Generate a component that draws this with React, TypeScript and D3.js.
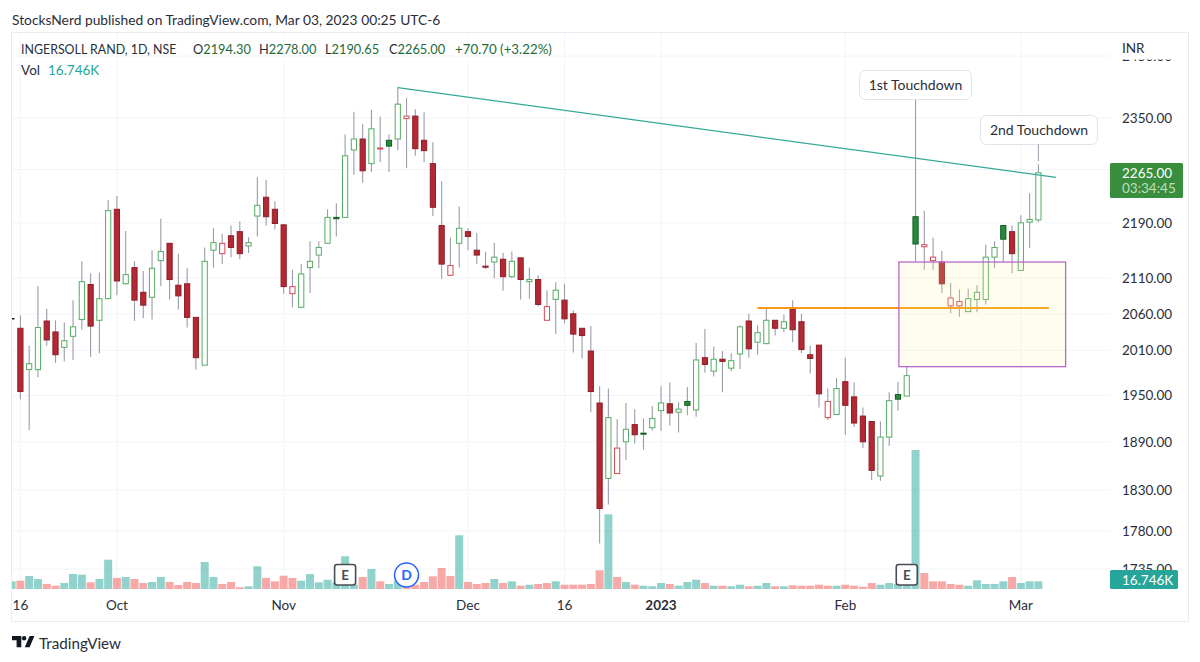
import React from "react";
import * as d3 from "d3";

// daily candles, oldest first
const opens = [
  2040, 1984, 1984, 2050, 2035, 2014, 2029, 2052, 2101, 2051,
  2081, 2210, 2102, 2125, 2090, 2083, 2135, 2160, 2100, 2102,
  2055, 1990, 2150, 2145, 2171, 2177, 2156, 2200, 2228, 2210,
  2187, 2088, 2069, 2125, 2143, 2160, 2198, 2198, 2300, 2317,
  2279, 2302, 2315, 2317, 2349, 2353, 2315, 2279, 2186, 2114,
  2160, 2177, 2150, 2127, 2133, 2137, 2112, 2139, 2105, 2108,
  2051, 2080, 2079, 2060, 2040, 2009, 1940, 1844, 1850, 1890,
  1912, 1901, 1908, 1930, 1939, 1928, 1942, 1931, 2000, 1982,
  1998, 1986, 2005, 2050, 2021, 2019, 2051, 2040, 2068, 2049,
  2004, 2017, 1921, 1925, 1968, 1948, 1923, 1916, 1847, 1896,
  1951, 1949, 2199, 2155, 2135, 2133, 2071, 2071, 2063, 2080,
  2080, 2140, 2186, 2177, 2121, 2191, 2194.3,
];
const highs = [
  2058, 2016, 2099, 2067, 2051, 2048, 2079, 2134, 2117, 2118,
  2224, 2230, 2178, 2134, 2120, 2150, 2196, 2161, 2145, 2124,
  2055, 2154, 2182, 2174, 2186, 2192, 2169, 2258, 2254, 2222,
  2188, 2122, 2130, 2163, 2163, 2210, 2219, 2324, 2360, 2340,
  2363, 2352, 2324, 2399, 2382, 2364, 2359, 2312, 2252, 2168,
  2214, 2182, 2175, 2148, 2161, 2146, 2148, 2139, 2125, 2114,
  2093, 2104, 2102, 2065, 2040, 2043, 1962, 1959, 1919, 1940,
  1932, 1920, 1936, 1962, 1967, 1941, 1961, 2020, 2039, 2015,
  2009, 2006, 2044, 2060, 2044, 2068, 2051, 2059, 2079, 2060,
  2016, 2017, 1959, 1973, 2000, 1967, 1934, 1916, 1916, 1954,
  1968, 1988, 2379, 2208, 2168, 2149, 2103, 2094, 2095, 2100,
  2158, 2163, 2186, 2186, 2201, 2234, 2278,
];
const lows = [
  1945, 1905, 1974, 2016, 1993, 1995, 1997, 2038, 2001, 2006,
  2081, 2086, 2101, 2050, 2054, 2052, 2099, 2080, 2066, 2041,
  1984, 1990, 2125, 2130, 2140, 2137, 2146, 2170, 2186, 2180,
  2088, 2069, 2069, 2089, 2124, 2160, 2170, 2198, 2262, 2250,
  2266, 2281, 2266, 2300, 2272, 2291, 2281, 2200, 2109, 2114,
  2125, 2150, 2130, 2123, 2110, 2092, 2110, 2080, 2081, 2070,
  2051, 2032, 2047, 2007, 1999, 1928, 1765, 1812, 1850, 1867,
  1888, 1880, 1904, 1904, 1911, 1902, 1924, 1922, 1980, 1975,
  1954, 1982, 1985, 2000, 2004, 2019, 2030, 2035, 2021, 2006,
  1979, 1934, 1918, 1925, 1899, 1909, 1882, 1842, 1841, 1885,
  1930, 1949, 2134, 2122, 2122, 2089, 2061, 2056, 2063, 2062,
  2073, 2124, 2133, 2117, 2121, 2153, 2190.65,
];
const closes = [
  1955, 1992, 2041, 2024, 2004, 2023, 2042, 2105, 2043, 2081,
  2208, 2106, 2115, 2079, 2072, 2124, 2148, 2108, 2085, 2055,
  2000, 2134, 2161, 2160, 2154, 2145, 2161, 2216, 2199, 2189,
  2098, 2098, 2116, 2134, 2154, 2198, 2196, 2291, 2317, 2268,
  2333, 2303, 2306, 2372, 2353, 2302, 2299, 2213, 2130, 2128,
  2182, 2170, 2143, 2126, 2140, 2112, 2134, 2108, 2108, 2073,
  2070, 2093, 2053, 2032, 2030, 1955, 1807, 1921, 1882, 1906,
  1899, 1900, 1920, 1940, 1927, 1932, 1937, 1997, 1991, 1998,
  1995, 1996, 2042, 2012, 2034, 2051, 2040, 2049, 2038, 2011,
  1999, 1952, 1942, 1959, 1937, 1914, 1890, 1854, 1896, 1943,
  1945, 1976, 2159, 2158, 2140, 2102, 2082, 2077, 2081, 2090,
  2140, 2154, 2166, 2145, 2190, 2195, 2265,
];
// g / r: close above or below the previous close
const dayColors = (
  "rggrrgggrg" + "grgrrggrrr" + "rggrrrggrr" + "rrgggggggr" + "grggrrrrrr" +
  "grrrgrgrgr" + "rgrrrrrgrg" + "rgggrgggrg" + "rggrggrgrr" + "rrrgrrrrgg" +
  "gggrrrrrgg" + "gggrggg"
).split("");
// thousands of shares
const volumes = [
  18.1, 28.3, 21.8, 10.9, 7.2, 13.1, 32.7, 31.2, 14.6, 21.8,
  63.9, 24, 26.2, 21.8, 13.1, 15.3, 26.2, 15.3, 8.7, 15.3,
  13.1, 58.9, 26.2, 10.9, 15.3, 3.7, 5.9, 49.5, 24, 16.8,
  29, 24, 18.1, 32.7, 14.6, 20.3, 15.3, 71.3, 9.4, 26.2,
  43.6, 16.8, 10.9, 18.1, 6.5, 9.4, 15.3, 27.7, 45.8, 28.3,
  117, 15.3, 10.9, 13.1, 21.8, 13.1, 16.8, 7.2, 9.4, 10.9,
  13.1, 16.8, 9.4, 9.4, 9.4, 10.9, 40.8, 162.8, 26.2, 15.3,
  9.4, 7.2, 5.9, 13.1, 10.9, 7.2, 15.3, 20.3, 13.1, 7.2,
  7.2, 5.9, 9.4, 5.9, 7.2, 13.1, 5.9, 5.9, 8.1, 7.2,
  7.2, 9.4, 7.2, 7.2, 9.4, 7.2, 5, 13.1, 9.4, 13.1,
  10.9, 8.7, 303, 34.9, 16.8, 16.8, 10.9, 9.4, 7.2, 19,
  10.9, 10.9, 16.8, 26.2, 13.1, 16.8, 16.746,
];
const clippedVolume = 16.8; // bar of the day before the first candle, cut by the pane edge

const priceGrid = [2450, 2350, 2270, 2190, 2110, 2060, 2010, 1950, 1890, 1830, 1780, 1735];
const priceLabels = priceGrid.filter((t) => t !== 2270); // 2270 sits fully behind the last price tag
const timeTicks = [
  { i: 0, label: "16" },
  { i: 11, label: "Oct" },
  { i: 30, label: "Nov" },
  { i: 51, label: "Dec" },
  { i: 62, label: "16" },
  { i: 73, label: "2023", bold: true },
  { i: 94, label: "Feb" },
  { i: 114, label: "Mar" },
];
const trendFrom = { i: 43, price: 2398.5 };
const trendTo = { i: 118, price: 2258 };
const supportFrom = { i: 84, price: 2068 };
const supportTo = { i: 117.2, price: 2068 };
const zone = { i0: 100.1, i1: 119.1, top: 2133, bottom: 1988 };
const earnings = [37, 101];
const dividend = 44;

const FONT = "Lato, 'Noto Sans', sans-serif";
const TEAL = "#26a69a";
const TEXT = "#2a2e39";
const GRID = "#f2f4f9";
const FRAME = "#e8ebf3";

const x = d3.scaleLinear().domain([0, 116]).range([20.4, 1038.4]);
const y = d3.scaleLog().domain([1735, 2350]).range([569, 118]);
const yVol = d3.scaleLinear().domain([0, 303]).range([589, 450]);

function Candle({ i }: { i: number }) {
  const up = dayColors[i] === "g";
  const hollow = closes[i] > opens[i];
  const top = y(Math.max(opens[i], closes[i]));
  const bottom = y(Math.min(opens[i], closes[i]));
  const cx = x(i);
  let stroke = up ? "#55ab62" : "#d24b57";
  let fill = "#ffffff";
  if (!hollow) {
    stroke = up ? "#0f5c22" : "#8f1d28";
    fill = up ? "#2a8a3c" : "#b22833";
  }
  return (
    <g>
      <line x1={cx} x2={cx} y1={y(highs[i])} y2={y(lows[i])} stroke="#9a9da8" strokeWidth={1.1} />
      <rect
        x={cx - 2.6}
        y={top}
        width={5.2}
        height={Math.max(bottom - top, 1)}
        fill={fill}
        stroke={stroke}
        strokeWidth={1}
      />
    </g>
  );
}

function Callout(props: { x0: number; x1: number; y0: number; y1: number; text: string }) {
  const { x0, x1, y0, y1, text } = props;
  return (
    <g>
      <rect x={x0} y={y0} width={x1 - x0} height={y1 - y0} rx={6} fill="#fff" stroke="#e0e3eb" />
      <text
        x={(x0 + x1) / 2}
        y={(y0 + y1) / 2 + 5}
        textAnchor="middle"
        fontSize={14}
        fill={TEXT}
      >
        {text}
      </text>
    </g>
  );
}

export default function App() {
  const indexes = d3.range(opens.length);
  return (
    <svg
      width={1200}
      height={662}
      style={{ position: "absolute", left: 0, top: 0, background: "#fff" }}
      fontFamily={FONT}
    >
      <defs>
        <clipPath id="pane">
          <rect x={12} y={33} width={1098} height={557} />
        </clipPath>
      </defs>

      <text x={12} y={25} fontSize={13.8} fill={TEXT}>
        StocksNerd published on TradingView.com, Mar 03, 2023 00:25 UTC-6
      </text>
      <rect x={11.5} y={32.5} width={1177} height={589} fill="none" stroke={FRAME} />

      {/* grid */}
      {priceGrid.map((t) => (
        <line key={t} x1={12} x2={1110} y1={y(t)} y2={y(t)} stroke={GRID} />
      ))}
      {timeTicks.map((t) => (
        <line key={t.i} x1={x(t.i)} x2={x(t.i)} y1={33} y2={589} stroke={GRID} />
      ))}
      <rect x={12} y={318} width={2.5} height={1.5} fill="#131722" />

      <g clipPath="url(#pane)">
        <rect
          x={x(-1) - 4}
          y={yVol(clippedVolume)}
          width={8}
          height={589 - yVol(clippedVolume)}
          fill={TEAL}
          fillOpacity={0.5}
        />
        {indexes.map((i) => (
          <rect
            key={i}
            x={x(i) - 4}
            y={yVol(volumes[i])}
            width={8}
            height={589 - yVol(volumes[i])}
            fill={dayColors[i] === "g" ? TEAL : "#ef5350"}
            fillOpacity={0.5}
          />
        ))}
        {indexes.map((i) => (
          <Candle key={i} i={i} />
        ))}

        <line
          x1={x(trendFrom.i)}
          y1={y(trendFrom.price)}
          x2={x(trendTo.i)}
          y2={y(trendTo.price)}
          stroke="#35a898"
          strokeWidth={1.2}
        />
        <line
          x1={x(supportFrom.i)}
          y1={y(supportFrom.price)}
          x2={x(supportTo.i)}
          y2={y(supportTo.price)}
          stroke="#f79a12"
          strokeWidth={2}
        />
        <rect
          x={x(zone.i0)}
          y={y(zone.top)}
          width={x(zone.i1) - x(zone.i0)}
          height={y(zone.bottom) - y(zone.top)}
          fill="rgb(255,245,157)"
          fillOpacity={0.17}
          stroke="#ba68c8"
          strokeWidth={1.3}
        />
      </g>

      <Callout x0={859.5} x1={971.5} y0={70.5} y1={99.5} text="1st Touchdown" />
      <Callout x0={980.5} x1={1097.5} y0={115.5} y1={144.5} text="2nd Touchdown" />
      <line x1={x(116)} x2={x(116)} y1={144.5} y2={161} stroke="#9a9da8" />

      {/* event markers */}
      {earnings.map((i) => (
        <g key={i}>
          <rect
            x={x(i) - 10.5}
            y={564.5}
            width={21}
            height={20.5}
            rx={2.5}
            fill="#fff"
            stroke="#4a4c55"
            strokeWidth={1.6}
          />
          <text x={x(i)} y={579.5} textAnchor="middle" fontSize={13.5} fontWeight={700} fill="#4a4c55">
            E
          </text>
        </g>
      ))}
      <circle cx={x(dividend)} cy={575} r={12} fill="#fff" stroke="#2962ff" strokeWidth={1.5} />
      <text x={x(dividend)} y={580} textAnchor="middle" fontSize={14} fontWeight={700} fill="#2962ff">
        D
      </text>

      {/* legend */}
      <text x={21} y={54} fontSize={12.4} fill={TEXT}>
        INGERSOLL RAND, 1D, NSE
      </text>
      {[
        { px: 193, k: "O", v: "2194.30" },
        { px: 259, k: "H", v: "2278.00" },
        { px: 325, k: "L", v: "2190.65" },
        { px: 389, k: "C", v: "2265.00" },
      ].map((d) => (
        <text key={d.k} x={d.px} y={54} fontSize={12.8} fill={TEXT}>
          {d.k}
          <tspan fill="#1f6b3a">{d.v}</tspan>
        </text>
      ))}
      <text x={455} y={54} fontSize={13.3} fill="#1f6b3a">
        +70.70 (+3.22%)
      </text>
      <text x={21} y={75} fontSize={13.5} fill={TEXT}>
        Vol
      </text>
      <text x={48} y={75} fontSize={13.5} fill={TEAL}>
        16.746K
      </text>

      {/* price axis */}
      {priceLabels.map((t) => (
        <text key={t} x={1122} y={y(t) + 5} fontSize={13.5} fill={TEXT}>
          {d3.format(".2f")(t)}
        </text>
      ))}
      <rect x={1111} y={33} width={77} height={26.5} fill="#fff" />
      <text x={1122} y={53} fontSize={13.5} fill={TEXT}>
        INR
      </text>
      <rect x={1110} y={163} width={73} height={35} rx={1.5} fill="#388e3c" />
      <text x={1122} y={178} fontSize={13.5} fill="#fff">
        2265.00
      </text>
      <text x={1122} y={193} fontSize={13.5} fill="#fff" fillOpacity={0.7}>
        03:34:45
      </text>
      <rect x={1110} y={570} width={68} height={19} rx={1.5} fill={TEAL} />
      <text x={1122} y={585} fontSize={13.5} fill="#fff">
        16.746K
      </text>

      {/* time axis */}
      {timeTicks.map((t) => (
        <text
          key={t.i}
          x={x(t.i)}
          y={610}
          textAnchor="middle"
          fontSize={13.5}
          fontWeight={t.bold ? 700 : 400}
          fill={TEXT}
        >
          {t.label}
        </text>
      ))}

      {/* footer logo */}
      <path d="M12 636H21.3V647.3H16.6V640.3H12Z" fill="#131722" />
      <circle cx={24.1} cy={638.2} r={2.2} fill="#131722" />
      <path d="M29.6 636H34.4L29.6 647.3H24.8Z" fill="#131722" />
      <text x={39} y={648.5} fontSize={15.2} fill="#2a2e39">
        TradingView
      </text>
    </svg>
  );
}
